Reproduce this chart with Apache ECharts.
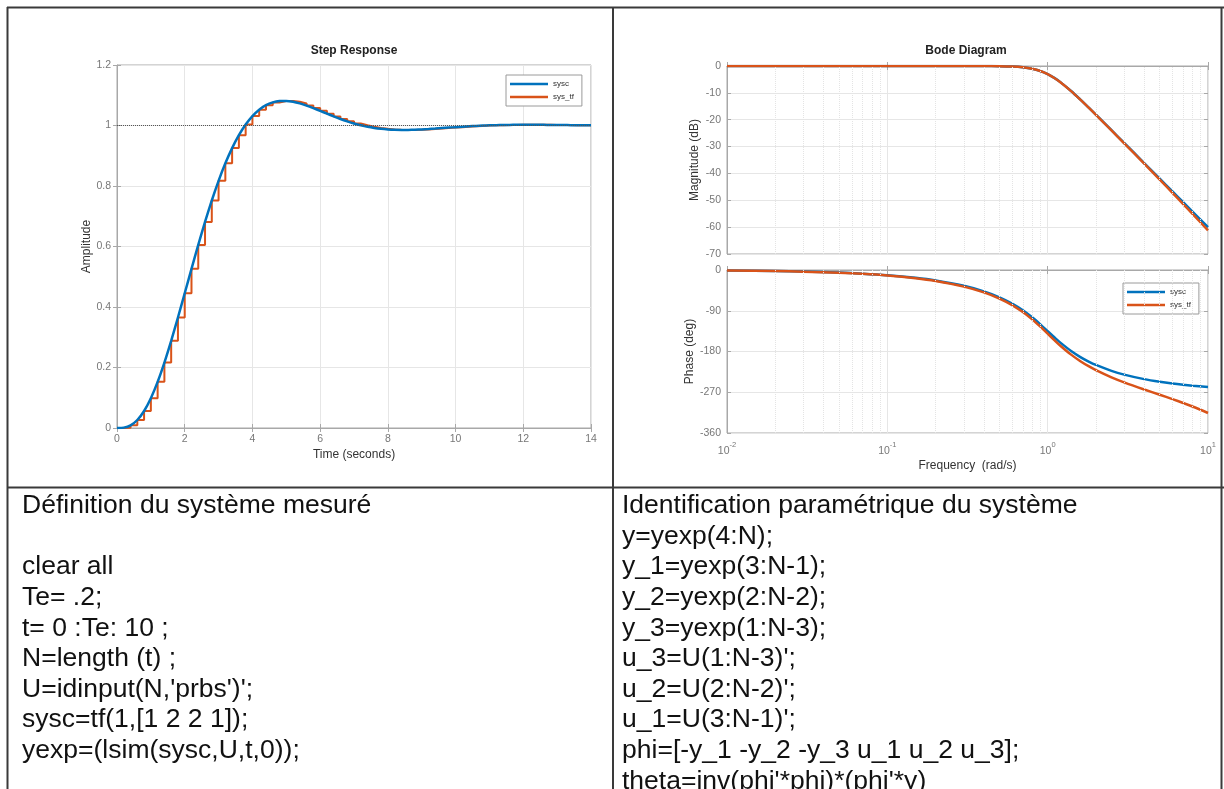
<!DOCTYPE html>
<html><head><meta charset="utf-8">
<script src="https://cdn.jsdelivr.net/npm/echarts@6/dist/echarts.min.js"></script>
<style>html,body{margin:0;padding:0;background:#fff}#c{width:1224px;height:789px}</style>
</head><body><div id="c"></div>
<script>
// ---------- data ----------
const stepTime = [0,0.2,0.4,0.6,0.8,1,1.2,1.4,1.6,1.8,2,2.2,2.4,2.6,2.8,3,3.2,3.4,3.6,3.8,4,4.2,4.4,4.6,4.8,5,5.2,5.4,5.6,5.8,6,6.2,6.4,6.6,6.8,7,7.2,7.4,7.6,7.8,8,8.2,8.4,8.6,8.8,9,9.2,9.4,9.6,9.8,10,10.2,10.4,10.6,10.8,11,11.2,11.4,11.6,11.8,12,12.2,12.4,12.6,12.8,13,13.2,13.4,13.6,13.8,14];
const stepSysc = [0,0.0012,0.0087,0.0264,0.0563,0.0986,0.1525,0.2164,0.2881,0.3653,0.4454,0.5261,0.6053,0.6812,0.7521,0.8170,0.8749,0.9253,0.9681,1.0033,1.0312,1.0523,1.0671,1.0763,1.0808,1.0812,1.0784,1.0730,1.0659,1.0575,1.0484,1.0392,1.0301,1.0215,1.0137,1.0067,1.0008,0.9958,0.9919,0.9890,0.9870,0.9858,0.9853,0.9854,0.9861,0.9871,0.9884,0.9898,0.9914,0.9930,0.9946,0.9960,0.9974,0.9986,0.9996,1.0005,1.0011,1.0017,1.0020,1.0022,1.0024,1.0023,1.0023,1.0021,1.0019,1.0017,1.0014,1.0012,1.0009,1.0007,1.0005];
const stepSysTf = [0,0.0012,0.0087,0.0264,0.0563,0.0986,0.1525,0.2164,0.2881,0.3653,0.4454,0.5261,0.6053,0.6812,0.7521,0.8170,0.8749,0.9253,0.9681,1.0033,1.0312,1.0523,1.0671,1.0763,1.0808,1.0812,1.0784,1.0730,1.0659,1.0575,1.0484,1.0392,1.0301,1.0215,1.0137,1.0067,1.0008,0.9958,0.9919,0.9890,0.9870,0.9858,0.9853,0.9854,0.9861,0.9871,0.9884,0.9898,0.9914,0.9930,0.9946,0.9960,0.9974,0.9986,0.9996,1.0005,1.0011,1.0017,1.0020,1.0022,1.0024,1.0023,1.0023,1.0021,1.0019,1.0017,1.0014,1.0012,1.0009,1.0007,1.0005];
const stepRef = 1;

const freq = [0.01,0.02,0.03,0.05,0.07,0.1,0.15,0.2,0.3,0.4,0.5,0.6,0.7,0.8,0.9,1.0,1.1,1.2,1.4,1.6,1.8,2,2.5,3,4,5,6,7,8,10];
const magSysc = [0,0,0,0,0,0,0,0,-0.003,-0.018,-0.067,-0.198,-0.483,-1.011,-1.851,-3.010,-4.427,-6.005,-9.309,-12.499,-15.442,-18.129,-23.894,-28.633,-36.125,-41.938,-46.689,-50.706,-54.185,-60.000];
const magSysTf = [0,0,0,0,0,0,0,0,-0.003,-0.018,-0.068,-0.200,-0.487,-1.017,-1.860,-3.025,-4.445,-6.027,-9.338,-12.538,-15.49,-18.19,-23.99,-28.77,-36.37,-42.30,-47.20,-51.40,-55.05,-61.20];
const phaseSysc = [-1.15,-2.29,-3.44,-5.73,-8.03,-11.48,-17.26,-23.08,-34.95,-47.26,-60.26,-74.12,-88.92,-104.43,-120.07,-135.00,-148.54,-160.33,-178.90,-192.27,-202.17,-209.74,-222.74,-231.00,-241.04,-246.92,-250.81,-253.57,-255.64,-258.52];
const phaseSysTf = [-1.20,-2.41,-3.61,-6.02,-8.43,-12.05,-18.12,-24.22,-36.67,-49.56,-63.12,-77.55,-92.93,-109.02,-125.22,-140.73,-154.84,-167.21,-186.92,-201.44,-212.48,-221.20,-237.07,-248.19,-263.96,-275.57,-285.19,-293.68,-301.48,-315.82];
const minorFreq = [0.02,0.03,0.04,0.05,0.06,0.07,0.08,0.09,0.2,0.3,0.4,0.5,0.6,0.7,0.8,0.9,2,3,4,5,6,7,8,9];

const seriesNames = ['sysc','sys_tf'];
const leftLines = ['Définition du système mesuré','','clear all','Te= .2;','t= 0 :Te: 10 ;','N=length (t) ;',"U=idinput(N,'prbs')';",'sysc=tf(1,[1 2 2 1]);','yexp=(lsim(sysc,U,t,0));'];
const rightLines = ['Identification paramétrique du système','y=yexp(4:N);','y_1=yexp(3:N-1);','y_2=yexp(2:N-2);','y_3=yexp(1:N-3);',"u_3=U(1:N-3)';","u_2=U(2:N-2)';","u_1=U(3:N-1)';",'phi=[-y_1 -y_2 -y_3 u_1 u_2 u_3];',"theta=inv(phi'*phi)*(phi'*y)"];

// ---------- style ----------
const FONT = "'Liberation Sans', Arial, Helvetica, sans-serif";
const BLUE = '#0072BD', ORANGE = '#D95319';
const AX = '#a8a8a8', LBL = '#777777', GRIDC = '#e6e6e6';

const zip = (xs, ys) => xs.map((x, i) => [x, ys[i]]);

function valAxis(gridIndex, pos, min, max, interval, opts) {
  const o = {
    type: 'value', gridIndex, position: pos, min, max, interval,
    axisLine: { show: pos === 'bottom' || pos === 'left', lineStyle: { color: AX, width: 1 } },
    axisTick: { show: true, inside: true, length: 4, lineStyle: { color: AX } },
    axisLabel: { show: pos === 'bottom' || pos === 'left', color: LBL, fontSize: 10.5, fontFamily: FONT, margin: 6 },
    splitLine: { show: pos === 'bottom' || pos === 'left', lineStyle: { color: GRIDC, width: 1 } },
    nameTextStyle: { color: '#333', fontSize: 12, fontFamily: FONT }
  };
  return Object.assign(o, opts || {});
}
function logAxis(gridIndex, pos, showLabel, opts) {
  const o = {
    type: 'log', logBase: 10, gridIndex, position: pos, min: 0.01, max: 10, splitNumber: 3,
    axisLine: { show: pos === 'bottom', lineStyle: { color: AX } },
    axisTick: { show: true, inside: true, length: 4, lineStyle: { color: AX } },
    axisLabel: {
      show: showLabel, margin: 8, fontFamily: FONT,
      formatter: v => '{b|10}{s|' + Math.round(Math.log10(v)) + '}',
      rich: {
        b: { fontSize: 10.5, color: LBL, fontFamily: FONT, lineHeight: 16, verticalAlign: 'bottom' },
        s: { fontSize: 7.5, color: LBL, fontFamily: FONT, lineHeight: 9, verticalAlign: 'top' }
      }
    },
    splitLine: { show: pos === 'bottom', lineStyle: { color: GRIDC } },
    nameTextStyle: { color: '#333', fontSize: 12, fontFamily: FONT }
  };
  return Object.assign(o, opts || {});
}
const minorLines = {
  silent: true, symbol: 'none', label: { show: false },
  lineStyle: { type: 'dotted', color: '#e4e4e4', width: 1 },
  data: minorFreq.map(f => ({ xAxis: f }))
};
function legendAt(left, top) {
  return {
    data: seriesNames, orient: 'vertical', left, top, selectedMode: false,
    backgroundColor: '#fff', borderColor: '#9a9a9a', borderWidth: 1,
    padding: [4, 8, 4, 4], itemGap: 3, itemWidth: 38, itemHeight: 2.5, icon: 'rect',
    textStyle: { fontSize: 8, color: '#333', fontFamily: FONT, lineHeight: 10 }
  };
}

// ---------- graphics (table + titles + code text) ----------
const lineEl = (x1, y1, x2, y2) => ({ type: 'line', shape: { x1, y1, x2, y2 }, style: { stroke: '#3a3a3a', lineWidth: 2 }, silent: true });
const graphics = [
  lineEl(7, 7.5, 1224, 7.5),
  lineEl(7.5, 7, 7.5, 789),
  lineEl(1221.5, 7, 1221.5, 789),
  lineEl(613, 7, 613, 789),
  lineEl(7, 487.5, 1224, 487.5),
  { type: 'text', x: 354, y: 51, style: { text: 'Step Response', font: "bold 12px " + FONT, fill: '#222', textAlign: 'center', textVerticalAlign: 'middle' } },
  { type: 'text', x: 966, y: 51, style: { text: 'Bode Diagram', font: "bold 12px " + FONT, fill: '#222', textAlign: 'center', textVerticalAlign: 'middle' } }
];
const codeStyle = t => ({ text: t, font: "26px " + FONT, fill: '#111', textAlign: 'left', textVerticalAlign: 'middle' });
leftLines.forEach((t, i) => {
  if (t) graphics.push({ type: 'text', x: 22, y: 506 + i * 30.6, scaleX: 1.02, style: codeStyle(t) });
});
rightLines.forEach((t, i) => {
  graphics.push({ type: 'text', x: 622, y: 506 + i * 30.6, scaleX: 1.02, style: codeStyle(t) });
});

const gridCommon = { show: true, borderColor: AX, borderWidth: 1, backgroundColor: '#fff', containLabel: false, outerBoundsMode: 'none' };

const option = {
  backgroundColor: '#fff',
  animation: false,
  textStyle: { fontFamily: FONT },
  grid: [
    Object.assign({ left: 117, top: 65, width: 474, height: 363 }, gridCommon),
    Object.assign({ left: 727, top: 66, width: 481, height: 188 }, gridCommon),
    Object.assign({ left: 727, top: 270, width: 481, height: 163 }, gridCommon)
  ],
  xAxis: [
    valAxis(0, 'bottom', 0, 14, 2, { name: 'Time (seconds)', nameLocation: 'middle', nameGap: 21 }),
    valAxis(0, 'top', 0, 14, 2),
    logAxis(1, 'bottom', false),
    logAxis(1, 'top', false),
    logAxis(2, 'bottom', true, { name: 'Frequency  (rad/s)', nameLocation: 'middle', nameGap: 27 }),
    logAxis(2, 'top', false)
  ],
  yAxis: [
    valAxis(0, 'left', 0, 1.2, 0.2, { name: 'Amplitude', nameLocation: 'middle', nameGap: 18 }),
    valAxis(0, 'right', 0, 1.2, 0.2),
    valAxis(1, 'left', -70, 0, 10, { name: 'Magnitude (dB)', nameLocation: 'middle', nameGap: 26 }),
    valAxis(1, 'right', -70, 0, 10),
    valAxis(2, 'left', -360, 0, 90, { name: 'Phase (deg)', nameLocation: 'middle', nameGap: 31 }),
    valAxis(2, 'right', -360, 0, 90)
  ],
  legend: [legendAt(506, 75), legendAt(1123, 283)],
  series: [
    { name: 'sys_tf', type: 'line', xAxisIndex: 0, yAxisIndex: 0, data: zip(stepTime, stepSysTf), step: 'end',
      showSymbol: false, color: ORANGE, lineStyle: { width: 2, color: ORANGE }, z: 3 },
    { name: 'sysc', type: 'line', xAxisIndex: 0, yAxisIndex: 0, data: zip(stepTime, stepSysc), smooth: 0.2,
      showSymbol: false, color: BLUE, lineStyle: { width: 2.5, color: BLUE }, z: 4,
      markLine: { silent: true, symbol: 'none', label: { show: false }, lineStyle: { type: 'dotted', color: '#555', width: 1 }, data: [{ yAxis: stepRef }] } },
    { name: 'sysc', type: 'line', xAxisIndex: 2, yAxisIndex: 2, data: zip(freq, magSysc), smooth: 0.3,
      showSymbol: false, color: BLUE, lineStyle: { width: 2.5, color: BLUE }, z: 3, markLine: minorLines },
    { name: 'sys_tf', type: 'line', xAxisIndex: 2, yAxisIndex: 2, data: zip(freq, magSysTf), smooth: 0.3,
      showSymbol: false, color: ORANGE, lineStyle: { width: 2.5, color: ORANGE }, z: 4 },
    { name: 'sysc', type: 'line', xAxisIndex: 4, yAxisIndex: 4, data: zip(freq, phaseSysc), smooth: 0.3,
      showSymbol: false, color: BLUE, lineStyle: { width: 2.5, color: BLUE }, z: 3, markLine: minorLines },
    { name: 'sys_tf', type: 'line', xAxisIndex: 4, yAxisIndex: 4, data: zip(freq, phaseSysTf), smooth: 0.3,
      showSymbol: false, color: ORANGE, lineStyle: { width: 2.5, color: ORANGE }, z: 4 }
  ],
  graphic: graphics
};
const chart = echarts.init(document.getElementById('c'), null, { renderer: 'canvas' });
chart.setOption(option);
</script></body></html>
